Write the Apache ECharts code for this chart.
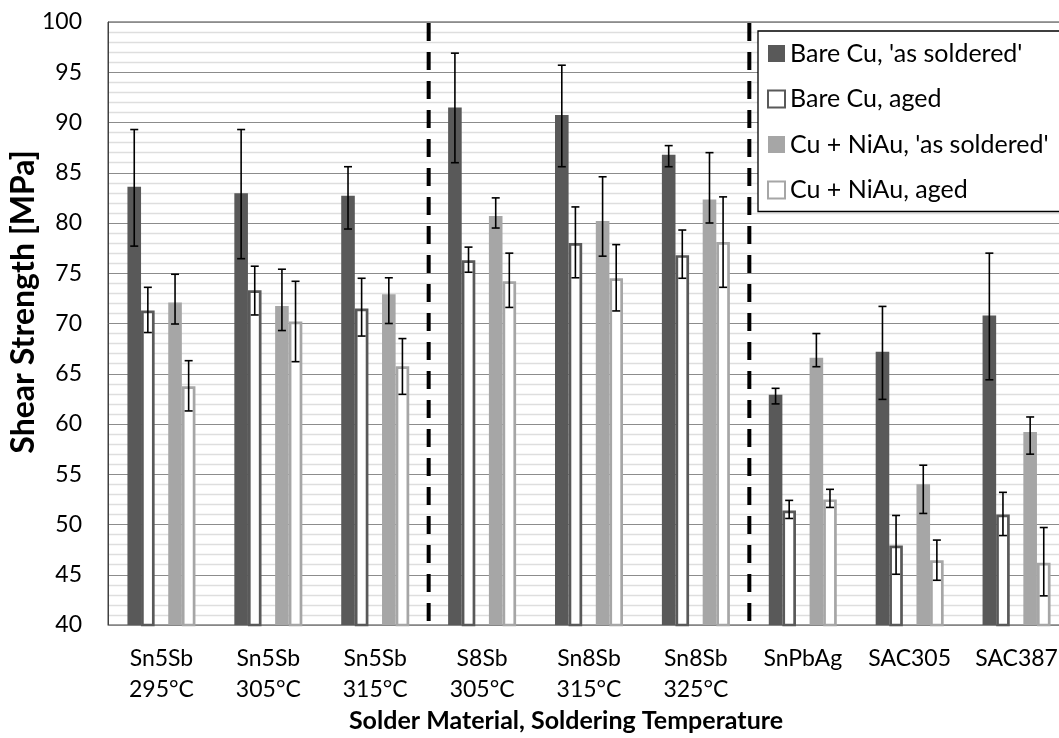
<!DOCTYPE html>
<html><head><meta charset="utf-8">
<script src="https://cdn.jsdelivr.net/npm/echarts@6/dist/echarts.min.js"></script>
<style>html,body{margin:0;padding:0;background:#fff}#c{width:1059px;height:738px}</style>
</head><body><div id="c"></div>
<script>
// ---------- data ----------
const categories = ['Sn5Sb\n295°C','Sn5Sb\n305°C','Sn5Sb\n315°C','S8Sb\n305°C','Sn8Sb\n315°C','Sn8Sb\n325°C','SnPbAg','SAC305','SAC387'];
const seriesNames = ["Bare Cu, 'as soldered'", "Bare Cu, aged", "Cu + NiAu, 'as soldered'", "Cu + NiAu, aged"];

const bareSoldered     = [83.6, 82.95, 82.7, 91.5, 90.75, 86.8, 62.9, 67.2, 70.8];
const bareSolderedLow  = [77.7, 76.45, 79.4, 86.0, 85.6, 85.6, 62.0, 62.45, 64.4];
const bareSolderedHigh = [89.3, 89.3, 85.6, 96.9, 95.7, 87.7, 63.55, 71.7, 77.0];

const bareAged     = [71.3, 73.3, 71.5, 76.3, 78.0, 76.8, 51.4, 47.9, 51.0];
const bareAgedLow  = [69.1, 70.85, 68.75, 75.1, 74.55, 74.5, 50.6, 45.05, 48.9];
const bareAgedHigh = [73.6, 75.7, 74.5, 77.6, 81.6, 79.3, 52.4, 50.9, 53.2];

const niauSoldered     = [72.1, 71.75, 72.9, 80.7, 80.2, 82.35, 66.6, 54.0, 59.2];
const niauSolderedLow  = [69.95, 69.3, 70.0, 79.5, 76.7, 80.0, 65.7, 51.1, 57.0];
const niauSolderedHigh = [74.9, 75.4, 74.55, 82.5, 84.6, 87.0, 69.0, 55.9, 60.7];

const niauAged     = [63.75, 70.2, 65.75, 74.2, 74.5, 78.1, 52.5, 46.45, 46.2];
const niauAgedLow  = [61.3, 66.2, 62.95, 71.6, 71.25, 73.6, 51.7, 44.45, 42.9];
const niauAgedHigh = [66.3, 74.2, 68.5, 77.0, 77.85, 82.6, 53.5, 48.45, 49.7];

const yMin = 40, yMax = 100, yInterval = 5;
const separatorsAfter = [2, 5];

// ---------- styling ----------
const FONT = 'Lato';
const BAR_W = 13.6;
const DARK = '#595959', LIGHT = '#a6a6a6';
const slotOf = [-2, -1, 1, 2];

const values = [bareSoldered, bareAged, niauSoldered, niauAged];
const lows = [bareSolderedLow, bareAgedLow, niauSolderedLow, niauAgedLow];
const highs = [bareSolderedHigh, bareAgedHigh, niauSolderedHigh, niauAgedHigh];
const styles = [
  {color: DARK},
  {color: '#ffffff', borderColor: DARK, borderWidth: 2.7},
  {color: LIGHT},
  {color: '#ffffff', borderColor: LIGHT, borderWidth: 2.7}
];

function bar(i) {
  return {name: seriesNames[i], type: 'bar', data: values[i], barWidth: BAR_W, barGap: '0%',
    itemStyle: styles[i], z: 2};
}
const series = [bar(0), bar(1),
  {name: 'spacer', type: 'bar', data: categories.map(() => '-'), barWidth: BAR_W, barGap: '0%'},
  bar(2), bar(3)];

const errData = [];
for (let s = 0; s < 4; s++) for (let c = 0; c < categories.length; c++)
  errData.push([c, lows[s][c], highs[s][c], slotOf[s]]);

series.push({
  type: 'custom', name: 'err', z: 5, data: errData, encode: {x: 0, y: [1, 2]},
  renderItem(params, api) {
    const c = api.value(0);
    const lo = api.coord([c, api.value(1)]);
    const hi = api.coord([c, api.value(2)]);
    const x = lo[0] + api.value(3) * BAR_W;
    const cap = 4;
    const st = {stroke: '#000', lineWidth: 1.6};
    return {type: 'group', children: [
      {type: 'line', shape: {x1: x, y1: hi[1], x2: x, y2: lo[1]}, style: st},
      {type: 'line', shape: {x1: x - cap, y1: hi[1], x2: x + cap, y2: hi[1]}, style: st},
      {type: 'line', shape: {x1: x - cap, y1: lo[1], x2: x + cap, y2: lo[1]}, style: st}
    ]};
  }
});

series.push({
  type: 'custom', name: 'sep', z: 6, data: separatorsAfter.map(i => [i, yMin, yMax]),
  encode: {x: 0, y: [1, 2]},
  renderItem(params, api) {
    const c = api.value(0);
    const top = api.coord([c, api.value(2)]);
    const bot = api.coord([c, api.value(1)]);
    const x = top[0] + api.size([1, 0])[0] / 2;
    return {type: 'line', shape: {x1: x, y1: top[1] + 1, x2: x, y2: bot[1] - 3},
      style: {stroke: '#000', lineWidth: 4, lineDash: [18, 11]}};
  }
});

const chart = echarts.init(document.getElementById('c'));
chart.setOption({
  animation: false,
  textStyle: {fontFamily: FONT},
  grid: {left: 108, top: 22, bottom: 113, right: -11, show: true, borderColor: '#404040', borderWidth: 1,
    outerBoundsMode: 'none', containLabel: false},
  legend: {
    orient: 'vertical', left: 758, top: 31, data: seriesNames,
    itemWidth: 17, itemHeight: 17, itemGap: 20.5, padding: [10, 40, 9, 9],
    borderColor: '#000', borderWidth: 1.3, backgroundColor: '#fff', icon: 'rect',
    textStyle: {fontFamily: FONT, fontSize: 25, color: '#000'}
  },
  xAxis: {
    type: 'category', data: categories,
    axisTick: {show: false},
    axisLine: {lineStyle: {color: '#868686', width: 1}},
    axisLabel: {interval: 0, fontFamily: FONT, fontSize: 23, color: '#000', lineHeight: 31, margin: 18}
  },
  yAxis: {
    type: 'value', min: yMin, max: yMax, interval: yInterval,
    axisLine: {show: true, lineStyle: {color: '#404040'}},
    axisTick: {show: false},
    axisLabel: {fontFamily: FONT, fontSize: 23, color: '#000', margin: 26},
    splitLine: {lineStyle: {color: '#8c8c8c', width: 1}},
    minorTick: {show: false, splitNumber: 5},
    minorSplitLine: {show: true, lineStyle: {color: '#dedede', width: 1.3}}
  },
  graphic: [
    {type: 'text', x: 24, y: 302, rotation: Math.PI / 2,
      style: {text: 'Shear Strength [MPa]', fontFamily: FONT, fontWeight: 'bold', fontSize: 32, fill: '#000',
        align: 'center', verticalAlign: 'middle'}},
    {type: 'text', x: 566, y: 721,
      style: {text: 'Solder Material, Soldering Temperature', fontFamily: FONT, fontWeight: 'bold', fontSize: 25, fill: '#000',
        align: 'center', verticalAlign: 'middle'}}
  ],
  series: series
});
</script></body></html>
